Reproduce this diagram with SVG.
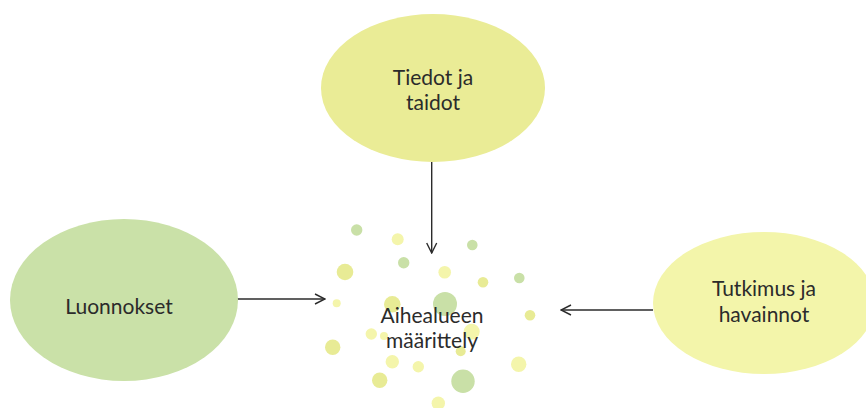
<svg xmlns="http://www.w3.org/2000/svg" width="866" height="408" viewBox="0 0 866 408">
<style>
text{font-family:Lato,"Noto Sans","Liberation Sans",sans-serif;font-size:21px;fill:#2b2b2b;text-anchor:middle}
.g{fill:#c9e0a7}.y{fill:#e8eb95}.p{fill:#f4f5ab}
.c{stroke:#2b2b2b;stroke-width:1.4;fill:none}
</style>
<defs>
<marker id="ah" viewBox="0 0 12 12" refX="11" refY="6" markerWidth="12" markerHeight="12" markerUnits="userSpaceOnUse" orient="auto">
<path d="M1,1 L11,6 L1,11" fill="none" stroke="#2b2b2b" stroke-width="1.4"/>
</marker>
</defs>
<g id="dots">
<circle class="g" cx="356.7" cy="230" r="5.7"/>
<circle class="p" cx="397.7" cy="239.3" r="6"/>
<circle class="g" cx="472.3" cy="245" r="5.3"/>
<circle class="g" cx="403.7" cy="262.7" r="5.7"/>
<circle class="y" cx="345" cy="272" r="8.3"/>
<circle class="p" cx="444.7" cy="272.3" r="6.3"/>
<circle class="y" cx="483" cy="282.3" r="5.3"/>
<circle class="g" cx="519.3" cy="278" r="5.3"/>
<circle class="p" cx="336.7" cy="303.3" r="4"/>
<circle class="y" cx="392.3" cy="304.3" r="8.3"/>
<circle class="g" cx="445" cy="304" r="12"/>
<circle class="y" cx="530" cy="315.3" r="5.3"/>
<circle class="p" cx="371.3" cy="334" r="5.7"/>
<circle class="p" cx="384" cy="336" r="4"/>
<circle class="p" cx="471.7" cy="331.7" r="8"/>
<circle class="y" cx="332.7" cy="347.3" r="7.7"/>
<circle class="y" cx="460.7" cy="351.3" r="5"/>
<circle class="p" cx="392.3" cy="361.7" r="6.7"/>
<circle class="p" cx="418.3" cy="366.7" r="5.7"/>
<circle class="p" cx="518.7" cy="364.3" r="7.7"/>
<circle class="y" cx="379.7" cy="380.3" r="7.7"/>
<circle class="g" cx="463" cy="381.3" r="11.7"/>
<circle class="p" cx="438.3" cy="403.3" r="6.7"/>
</g>
<g id="center">
<text x="432" y="323">Aihealueen</text>
<text x="432" y="348">määrittely</text>
</g>
<g id="connectors">
<line class="c" x1="431.7" y1="162" x2="431.7" y2="253" marker-end="url(#ah)"/>
<line class="c" x1="235" y1="299" x2="325" y2="299" marker-end="url(#ah)"/>
<line class="c" x1="653" y1="310" x2="561" y2="310" marker-end="url(#ah)"/>
</g>
<g id="top">
<ellipse cx="433" cy="88" rx="112" ry="74" fill="#eaec96"/>
<text x="433" y="85">Tiedot ja</text>
<text x="433" y="110">taidot</text>
</g>
<g id="left">
<ellipse cx="124" cy="300" rx="114" ry="81" fill="#cae1a8"/>
<text x="119" y="314">Luonnokset</text>
</g>
<g id="right">
<ellipse cx="764" cy="303" rx="111" ry="71" fill="#f3f5aa"/>
<text x="764" y="296">Tutkimus ja</text>
<text x="764" y="322">havainnot</text>
</g>
</svg>
